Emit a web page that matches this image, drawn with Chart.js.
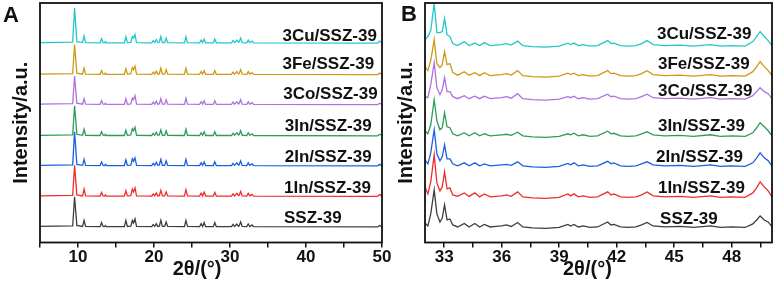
<!DOCTYPE html>
<html>
<head>
<meta charset="utf-8">
<script src="https://cdn.jsdelivr.net/npm/chart.js@4.4.0/dist/chart.umd.min.js"></script>
<style>
  body { margin: 0; background: #fff; }
  #wrap { position: relative; width: 775px; height: 291px; overflow: hidden; }
  canvas { position: absolute; top: 0; }
  #chartA { left: 0; }
  #chartB { left: 390px; }
  .panel { position: absolute; font: bold 22px "Liberation Sans", Arial, sans-serif; line-height: 1; color: #111; }
</style>
</head>
<body>
<div id="wrap">
  <canvas id="chartA" width="395" height="291"></canvas>
  <canvas id="chartB" width="385" height="291"></canvas>
  <div class="panel" style="left:3px;top:4px">A</div>
  <div class="panel" style="left:401px;top:3px">B</div>
</div>
<script>
// ================= DATA =================
const samples = ["SSZ-39", "1In/SSZ-39", "2In/SSZ-39", "3In/SSZ-39", "3Co/SSZ-39", "3Fe/SSZ-39", "3Cu/SSZ-39"];
const colors = ["#3d3d3d", "#ee2c2c", "#1a5fe0", "#2d9c5a", "#b070e0", "#cc9a14", "#22c8c8"];

// ---- panel A : full range 5-50 ----
const twoThetaA = [
  5, 9.3, 9.55, 9.85, 10.6, 10.8, 11.0, 12.9, 13.1, 13.3,
  13.5, 13.6, 13.75, 16.1, 16.3, 16.5, 16.95, 17.15, 17.3, 17.5,
  17.7, 19.7, 19.9, 20.1, 20.3, 20.5, 20.7, 20.9, 21.1, 21.4,
  21.6, 21.8, 24.0, 24.2, 24.4, 26.0, 26.2, 26.4, 26.6, 26.8,
  27.8, 28.0, 28.2, 30.2, 30.4, 30.6, 30.9, 31.1, 31.2, 31.4,
  31.6, 32.2, 32.4, 32.6, 32.9, 33.1, 49.4, 49.7, 50
];
const sszA = [
  0.5, 1, 30, 1.5, 0.5, 6.5, 0.5, 0.3, 4.3, 0.5,
  0.3, 1.5, 0.3, 0.3, 6.5, 0.5, 0.8, 6.5, 4, 8,
  0.5, 0.3, 2.3, 0.5, 3.3, 0.5, 0.8, 6.5, 0.5, 0.5,
  5, 0.5, 0.3, 6.5, 0.5, 0.3, 3.3, 0.5, 4.3, 0.3,
  0.3, 4.3, 0.3, 0.3, 2.5, 0.5, 3, 0.8, 1, 5,
  0.5, 0.3, 3, 0.5, 2, 0.3, 0, 1.5, 0
];
const in1A = [
  0.5, 1, 31, 1.5, 0.5, 7.3, 0.5, 0.3, 4, 0.5,
  0.3, 1.5, 0.3, 0.3, 5.5, 0.5, 0.8, 7.3, 4.5, 8.5,
  0.5, 0.3, 2.5, 0.5, 3.5, 0.5, 0.8, 6, 0.5, 0.5,
  4.5, 0.5, 0.3, 6.7, 0.5, 0.3, 3.3, 0.5, 4.3, 0.3,
  0.3, 4, 0.3, 0.3, 2.5, 0.5, 3, 0.8, 1, 5,
  0.5, 0.3, 3, 0.5, 2, 0.3, 0, 2, 0
];
const in2A = [
  0.5, 1, 34, 1.5, 0.5, 6.5, 0.5, 0.3, 4, 0.5,
  0.3, 1.5, 0.3, 0.3, 6, 0.5, 0.8, 7, 4.5, 8,
  0.5, 0.3, 2.5, 0.5, 3.5, 0.5, 0.8, 6.5, 0.5, 0.5,
  5, 0.5, 0.3, 6.5, 0.5, 0.3, 3, 0.5, 4, 0.3,
  0.3, 4, 0.3, 0.3, 2.5, 0.5, 3, 0.8, 1, 5,
  0.5, 0.3, 3, 0.5, 2, 0.3, 0, 1.5, 0
];
const in3A = [
  0.5, 1, 30, 1.5, 0.5, 6.5, 0.5, 0.3, 4, 0.5,
  0.3, 1.5, 0.3, 0.3, 5.5, 0.5, 0.8, 7, 5, 8.5,
  0.5, 0.3, 2.5, 0.5, 3.5, 0.5, 0.8, 6, 0.5, 0.5,
  5, 0.5, 0.3, 6.5, 0.5, 0.3, 3, 0.5, 4, 0.3,
  0.3, 4, 0.3, 0.3, 2.5, 0.5, 3, 0.8, 1, 5,
  0.5, 0.3, 3, 0.5, 2, 0.3, 0, 1.5, 0
];
const coA = [
  0.5, 1, 28.5, 1.5, 0.5, 6, 0.5, 0.3, 4, 0.5,
  0.3, 1.5, 0.3, 0.3, 6, 0.5, 0.8, 6.5, 5, 9,
  0.5, 0.3, 2.5, 0.5, 3.5, 0.5, 0.8, 6, 0.5, 0.5,
  5, 0.5, 0.3, 6.5, 0.5, 0.3, 3, 0.5, 4, 0.3,
  0.3, 4, 0.3, 0.3, 2.5, 0.5, 3, 0.8, 1, 5,
  0.5, 0.3, 3, 0.5, 2, 0.3, 0, 1.5, 0
];
const feA = [
  0.5, 1, 30, 1.5, 0.5, 6.5, 0.5, 0.3, 4, 0.5,
  0.3, 1.5, 0.3, 0.3, 6, 0.5, 0.8, 7, 5, 8.5,
  0.5, 0.3, 2.5, 0.5, 3.5, 0.5, 0.8, 6.5, 0.5, 0.5,
  5, 0.5, 0.3, 6.5, 0.5, 0.3, 3, 0.5, 4, 0.3,
  0.3, 4, 0.3, 0.3, 2.5, 0.5, 3, 0.8, 1, 5,
  0.5, 0.3, 3, 0.5, 2, 0.3, 0, 1.5, 0
];
const cuA = [
  0.5, 1, 35, 1.5, 0.5, 7, 0.5, 0.3, 4.3, 0.5,
  0.3, 1.5, 0.3, 0.3, 6.5, 0.5, 0.8, 6.5, 5, 8.5,
  0.5, 0.3, 2.5, 0.5, 3.5, 0.5, 0.8, 6.5, 0.5, 0.5,
  5, 0.5, 0.3, 6.5, 0.5, 0.3, 3, 0.5, 4, 0.3,
  0.3, 4, 0.3, 0.3, 2.5, 0.5, 3, 0.8, 1, 5,
  0.5, 0.3, 3, 0.5, 2, 0.3, 0, 2, 0
];
const offsetsA = [15.5, 46, 76.5, 106.5, 137.5, 167.5, 199];
const ticksA = [5, 10, 15, 20, 25, 30, 35, 40, 45, 50];
const tickLabelsA = ["", "10", "", "20", "", "30", "", "40", "", "50"];

// ---- panel B : zoom 32-50 ----
const twoThetaB = [
  32.0, 32.15, 32.3, 32.48, 32.62, 32.78, 32.9, 33.02, 33.15, 33.3,
  33.45, 33.7, 34.05, 34.3, 34.6, 34.85, 35.1, 35.4, 35.7, 36.0,
  36.25, 36.5, 36.83, 37.1, 37.6, 38.3, 39.0, 39.45, 39.6, 39.77,
  40.0, 40.25, 40.6, 41.0, 41.53, 41.7, 41.85, 42.2, 42.6, 43.0,
  43.3, 43.58, 43.9, 44.5, 45.3, 46.0, 46.9, 47.4, 48.0, 48.7,
  49.1, 49.3, 49.48, 49.7, 49.9, 50.1
];
const sszB = [
  5, 2, 14, 38, 14, 6, 10, 23, 8, 9,
  3, 1, 4.5, 1, 4.5, 1, 3.5, 1, 1.5, 2,
  3, 1.5, 5.5, 1, 0, -0.5, 0.5, 3.5, 2, 3.5,
  1, 2, 0.5, 1, 6, 3, 3.5, 1, 0.5, 1,
  3, 5.5, 2, 1, 1.5, 0.5, 2, 0.5, 1, 0.5,
  4, 8, 12, 8, 6, 1
];
const in1B = [
  11, 4, 16, 43, 15, 7, 11, 26, 9, 10,
  3, 1.5, 5, 1.5, 5, 1, 4, 1, 1.5, 2,
  3, 1.5, 6, 1, 0, -0.5, 0.5, 4, 2, 4,
  1, 2, 0.5, 1, 6, 3, 4, 1, 0.5, 1,
  3, 6, 2, 1, 1.5, 0.5, 2, 0.5, 1, 0.5,
  5, 10, 16, 11, 7, 1
];
const in2B = [
  7, 3, 14, 37, 13, 6, 10, 22, 8, 8,
  3, 1, 4, 1, 4, 1, 3, 1, 1.5, 2,
  2.5, 1.5, 5, 1, 0, -0.5, 0.5, 3.5, 2, 4,
  1, 2, 0.5, 1, 5.5, 3, 4, 1, 0.5, 1,
  3, 5, 2, 1, 1.5, 0.5, 2, 0.5, 1, 0.5,
  4, 9, 14, 9, 6, 1
];
const in3B = [
  6, 3, 12, 37, 16, 7, 9, 24, 10, 9,
  3, 1, 4, 1, 4, 1, 3, 1, 1.5, 2,
  2.5, 1.5, 4.5, 1, 0, -0.5, 0.5, 3, 2, 3.5,
  1, 2, 0.5, 1, 5.5, 3, 3.5, 1, 0.5, 1,
  3, 5, 2, 1, 1.5, 0.5, 2, 0.5, 1, 0.5,
  4, 9, 14, 10, 6, 1
];
const coB = [
  3, 2, 15, 37, 12, 5, 10, 22, 8, 8,
  3, 1, 4, 1, 3.5, 1, 3.5, 1, 1.5, 2,
  3, 1.5, 6, 1, 0, -0.5, 0.5, 3, 2, 3.5,
  1, 2, 0.5, 1, 5.5, 3, 3.5, 1, 0.5, 1,
  3, 5.5, 2, 1, 1.5, 0.5, 2, 0.5, 1, 0.5,
  4, 8, 12, 8, 6, 1
];
const feB = [
  10, 6, 16, 37, 13, 9, 12, 25, 12, 13,
  4, 1.5, 5, 1.5, 4, 1, 4, 1, 1.5, 2,
  3, 1.5, 6, 1, 0, -0.5, 0.5, 3.5, 2, 3.5,
  1, 2, 0.5, 1, 6, 3, 3.5, 1, 0.5, 1,
  3, 6, 2, 1, 1.5, 0.5, 2, 0.5, 1, 0.5,
  5, 10, 15, 10, 6, 1
];
const cuB = [
  7, 10, 16, 43, 14, 14, 15, 28, 12, 10,
  3, 1, 5, 1, 3.5, 1, 4, 1, 1.5, 2,
  3, 1.5, 5.5, 1, 0, -0.5, 0.5, 3.5, 2, 3.5,
  1, 2, 0.5, 1, 6, 3, 3.5, 1, 0.5, 1,
  3, 6, 2, 1, 1.5, 0.5, 2, 0.5, 1, 0.5,
  5, 10, 15, 10, 6, 1
];
const offsetsB = [14.5, 44.5, 75.5, 105.5, 142.5, 165.5, 195.5];
const ticksB = [33, 34.5, 36, 37.5, 39, 40.5, 42, 43.5, 45, 46.5, 48, 49.5];
const tickLabelsB = ["33", "", "36", "", "39", "", "42", "", "45", "", "48", ""];

// ================= STYLE =================
const FONT = "'Liberation Sans', Arial, sans-serif";
const INK = "#111";
const tickFont = { family: FONT, size: 17, weight: "bold" };
const titleFont = { family: FONT, size: 20, weight: "bold" };

// ================= PLUGINS =================
// black box round the plot area
const frame = {
  id: "frame",
  afterDraw(chart) {
    const { ctx, chartArea: a } = chart;
    ctx.save();
    ctx.strokeStyle = INK;
    ctx.lineWidth = 1.8;
    ctx.strokeRect(a.left, a.top, a.right - a.left, a.bottom - a.top);
    ctx.restore();
  }
};

// sample names next to each trace
const sampleLabels = {
  id: "sampleLabels",
  afterDatasetsDraw(chart, args, opts) {
    const { ctx, scales: { x, y } } = chart;
    ctx.save();
    ctx.font = "bold 17px " + FONT;
    ctx.fillStyle = INK;
    ctx.textBaseline = "middle";
    opts.spots.forEach((s, i) => {
      ctx.fillText(samples[i], x.getPixelForValue(s[0]), y.getPixelForValue(s[1]));
    });
    ctx.restore();
  }
};

// ================= CHART =================
function buildDatasets(xs, series, offsets) {
  return series.map((ys, i) => ({
    label: samples[i],
    data: xs.map((x, j) => ({ x, y: offsets[i] + ys[j] })),
    borderColor: colors[i],
    borderWidth: 1.3,
    pointRadius: 0,
    tension: 0
  }));
}

function makeOptions(cfg) {
  return {
    responsive: false,
    animation: false,
    devicePixelRatio: 1,
    layout: { padding: { top: 3, right: cfg.padRight, left: 0, bottom: 0 } },
    plugins: {
      legend: { display: false },
      tooltip: { enabled: false },
      sampleLabels: { spots: cfg.spots }
    },
    scales: {
      x: {
        type: "linear",
        min: cfg.min,
        max: cfg.max,
        afterBuildTicks: s => { s.ticks = cfg.ticks.map(v => ({ value: v })); },
        afterFit: s => { s.height = 48.5; },
        ticks: {
          autoSkip: false, maxRotation: 0, padding: 0,
          color: INK, font: tickFont,
          callback: (v, i) => cfg.tickLabels[i]
        },
        grid: { display: true, drawOnChartArea: false, drawTicks: true, tickLength: 5, color: INK, lineWidth: 1.5 },
        border: { display: false },
        // trailing spaces push the caption a little left of centre, as in the figure
        title: { display: true, text: "2θ/(°)" + "\u00a0".repeat(cfg.titleShift), font: titleFont, color: INK, padding: { top: 0, bottom: 10 } }
      },
      y: {
        min: 0,
        max: 239,
        afterFit: s => { s.width = cfg.yWidth; },
        ticks: { display: false },
        grid: { display: false },
        border: { display: false },
        title: { display: true, text: "Intensity/a.u.", font: titleFont, color: INK, padding: { top: cfg.yTitlePad, bottom: 0 } }
      }
    }
  };
}

new Chart(document.getElementById("chartA"), {
  type: "line",
  data: { datasets: buildDatasets(twoThetaA, [sszA, in1A, in2A, in3A, coA, feA, cuA], offsetsA) },
  options: makeOptions({
    min: 5, max: 50, ticks: ticksA, tickLabels: tickLabelsA,
    padRight: 13, yWidth: 40, yTitlePad: 9.5, titleShift: 5,
    spots: [[37.1, 24.5], [37.1, 54.5], [37.2, 85.5], [37.2, 115.5], [37.0, 147.5], [36.9, 177.5], [36.9, 205.5]]
  }),
  plugins: [frame, sampleLabels]
});

new Chart(document.getElementById("chartB"), {
  type: "line",
  data: { datasets: buildDatasets(twoThetaB, [sszB, in1B, in2B, in3B, coB, feB, cuB], offsetsB) },
  options: makeOptions({
    min: 32, max: 50.1, ticks: ticksB, tickLabels: tickLabelsB,
    padRight: 3, yWidth: 35, yTitlePad: 4, titleShift: 4,
    spots: [[44.26, 23.5], [44.15, 54.5], [44.05, 85.5], [44.15, 115.5], [44.15, 150.5], [44.15, 177.5], [44.1, 207.5]]
  }),
  plugins: [frame, sampleLabels]
});
</script>
</body>
</html>
